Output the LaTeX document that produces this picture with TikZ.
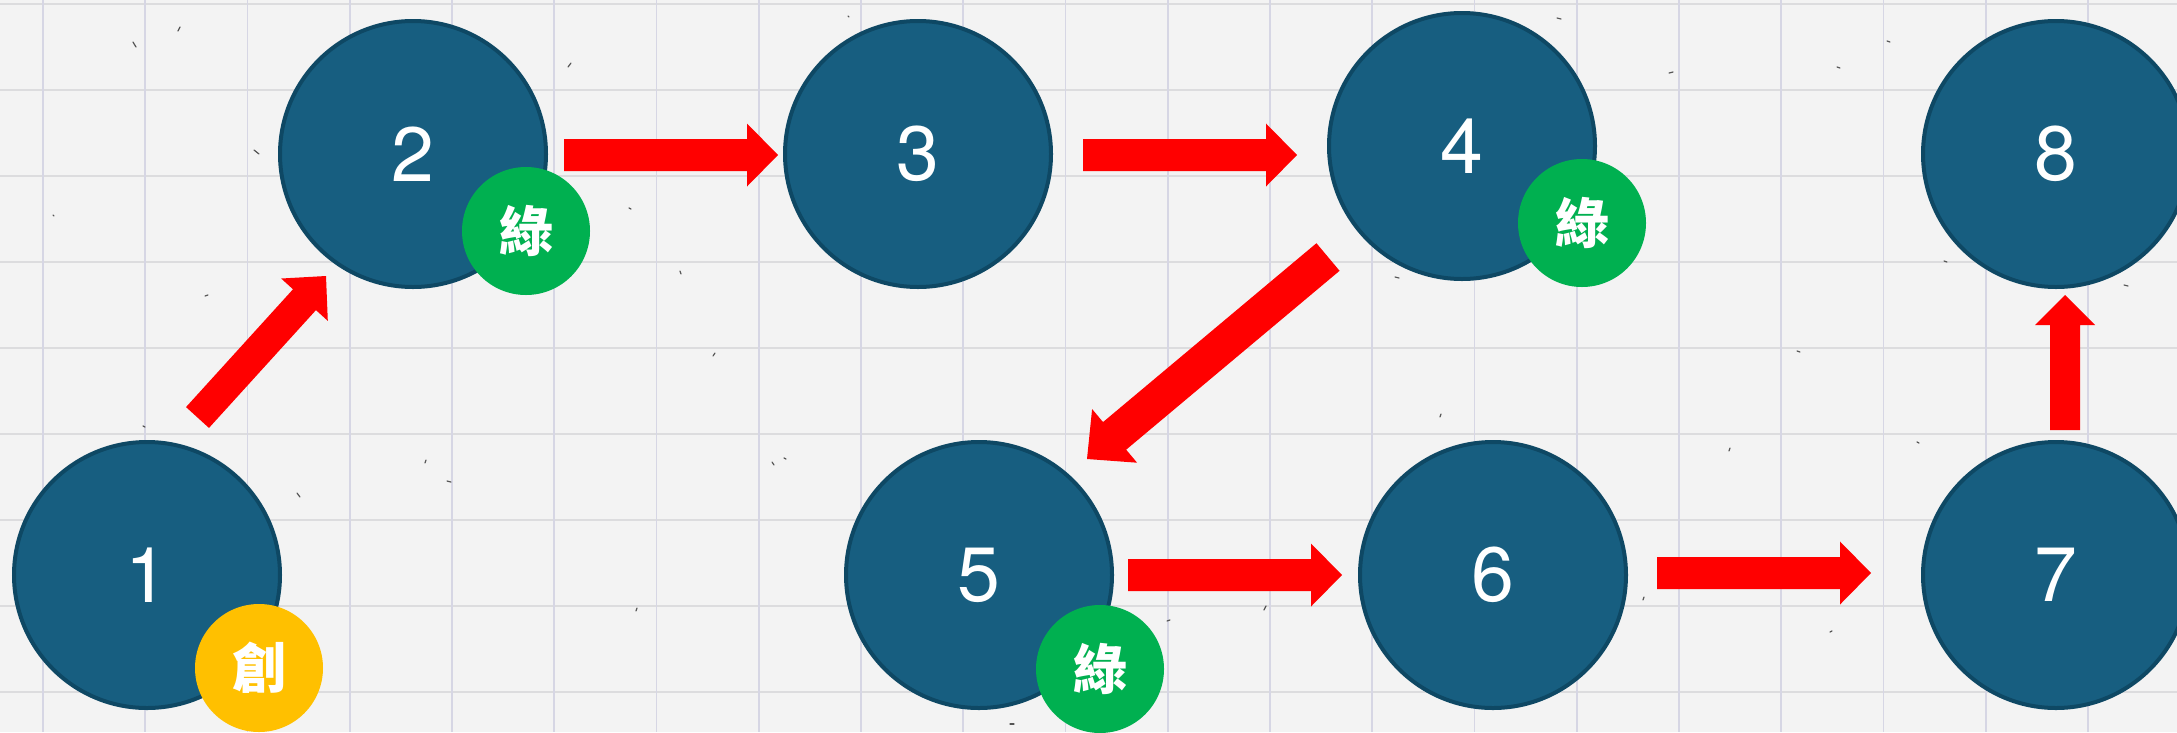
\documentclass[tikz,border=0pt]{standalone}
\usepackage{fontspec}
\setmainfont{TeX Gyre Heros}
\newfontfamily\numfont{TeX Gyre Heros}
\newfontfamily\cjkfont{Noto Sans CJK TC}
\usetikzlibrary{calc}
\definecolor{paper}{HTML}{F3F3F3}
\definecolor{gridv}{HTML}{D6D6E4}
\definecolor{gridh}{HTML}{DCDCDE}
\definecolor{stagefill}{HTML}{175E80}
\definecolor{stageborder}{HTML}{0E4864}
\definecolor{badgegreen}{HTML}{00B050}
\definecolor{badgegold}{HTML}{FFC000}
\definecolor{arrowred}{HTML}{FF0000}
\definecolor{speck}{HTML}{555555}
\tikzset{
  stage/.style={circle, fill=stagefill, draw=stageborder, line width=4pt,
    minimum size=266pt, inner sep=0pt, text=white,
    font=\numfont\fontsize{77}{77}\selectfont},
  badge/.style={circle, minimum size=128pt, inner sep=0pt, text=white,
    font=\cjkfont\bfseries\fontsize{54}{54}\selectfont},
  greenbadge/.style={badge, fill=badgegreen},
  goldbadge/.style={badge, fill=badgegold},
  arrowfill/.style={fill=arrowred},
  speckline/.style={draw=speck, line width=1.2pt, line cap=round}
}
% block arrow: #1 start, #2 end, #3 shaft half width, #4 head half width, #5 head length
\newcommand\blockarr[5]{%
  \coordinate (tmpB) at ($(#2)!#5!(#1)$);
  \fill[arrowfill] ($(#1)!#3!90:(#2)$) -- ($(tmpB)!#3!90:(#2)$) -- ($(tmpB)!#4!90:(#2)$)
    -- (#2) -- ($(tmpB)!#4!-90:(#2)$) -- ($(tmpB)!#3!-90:(#2)$) -- ($(#1)!#3!-90:(#2)$) -- cycle;
}
\begin{document}
\begin{tikzpicture}[x=1pt,y=-1pt]
\useasboundingbox (0,0) rectangle (2177,732);
\clip (0,0) rectangle (2177,732);
\fill[paper] (0,0) rectangle (2177,732);
% grid
\foreach \k in {0,...,8} \draw[gridh, line width=1.8pt] (0,4+86*\k) -- (2177,4+86*\k);
\foreach \k in {0,...,21} \draw[gridv, line width=1.6pt] (43+102.25*\k,0) -- (43+102.25*\k,732);
% paper specks
\foreach \px/\py/\dx/\dy in {178/31/2/-4, 133/42/3/5, 568/67/3/-4, 254/150/5/4, 205/296/3/-1, 680/271/1/3,
  629/208/2/1, 53/215/1/1, 143/426/2/1, 297/493/3/4, 425/463/1/-3, 447/481/4/1, 772/462/2/3, 784/458/2/1,
  636/611/1/-3, 1440/417/1/-3, 1395/277/4/1, 1669/73/4/-1, 1837/67/3/1, 1890/42/-3/-1, 1944/261/3/1,
  2124/285/4/1, 1917/442/2/1, 1729/451/1/-3, 1797/351/3/1, 1643/600/1/-3, 1830/632/2/-1, 1962/632/4/1,
  1010/724/4/0, 848/16/1/1, 713/356/2/-3, 1264/610/2/-4, 1170/620/-3/1, 1557/18/4/1}
  \draw[speckline] (\px,\py) -- ++(\dx,\dy);
% stages
\node[stage] (n1) at (147,575) {1};
\node[stage] (n2) at (413,154) {2};
\node[stage] (n3) at (918,154) {3};
\node[stage] (n4) at (1462,146) {4};
\node[stage] (n5) at (979,575) {5};
\node[stage] (n6) at (1493,575) {6};
\node[stage] (n7) at (2056,575) {7};
\node[stage] (n8) at (2056,154) {8};
% badges
\node[goldbadge] (b1) at ($(n1)+(112,93)$) {創};
\node[greenbadge] (b2) at ($(n2)+(113,77)$) {綠};
\node[greenbadge] (b4) at ($(n4)+(120,77)$) {綠};
\node[greenbadge] (b5) at ($(n5)+(121,94)$) {綠};
% arrow end points
\coordinate (s12) at ($(n1)+(50.5,-157.5)$); \coordinate (e12) at ($(n2)+(-87,122)$);
\coordinate (s23) at ($(n2)+(151,1)$);       \coordinate (e23) at ($(n3)+(-140,1)$);
\coordinate (s34) at ($(n3)+(165,1)$);       \coordinate (e34) at ($(n4)+(-165,9)$);
\coordinate (s45) at ($(n4)+(-134,111)$);    \coordinate (e45) at ($(n5)+(108,-116)$);
\coordinate (s56) at ($(n5)+(149,0)$);       \coordinate (e56) at ($(n6)+(-151,0)$);
\coordinate (s67) at ($(n6)+(164,-2)$);      \coordinate (e67) at ($(n7)+(-185,-2)$);
\coordinate (s78) at ($(n7)+(9,-145)$);      \coordinate (e78) at ($(n8)+(9,141)$);
% arrows
\blockarr{s12}{e12}{15.5pt}{31.5pt}{32pt}
\blockarr{s23}{e23}{16pt}{31.5pt}{31pt}
\blockarr{s34}{e34}{16pt}{31.5pt}{31pt}
\blockarr{s45}{e45}{18pt}{35pt}{36pt}
\blockarr{s56}{e56}{16pt}{31.5pt}{31pt}
\blockarr{s67}{e67}{16pt}{31.5pt}{31pt}
\blockarr{s78}{e78}{15pt}{30pt}{30pt}
\end{tikzpicture}
\end{document}
